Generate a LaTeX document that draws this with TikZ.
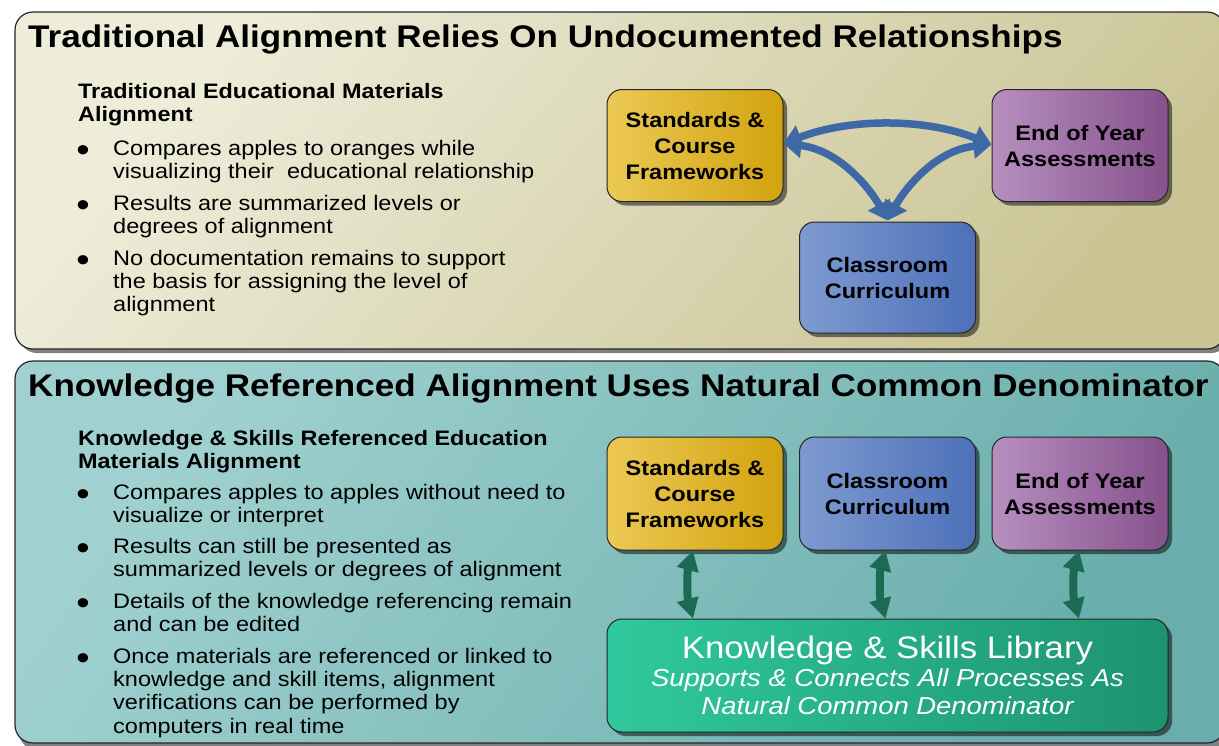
\documentclass[tikz,border=0pt]{standalone}
\usepackage{fontspec}
\setmainfont{Liberation Sans}[FakeStretch=1.12]
\usetikzlibrary{arrows.meta,shadows}
\definecolor{panAL}{HTML}{EDEDDA}
\definecolor{panAR}{HTML}{CBC596}
\definecolor{panBL}{HTML}{A0D1D0}
\definecolor{panBR}{HTML}{69AEAC}
\definecolor{stdL}{HTML}{ECC955}
\definecolor{stdR}{HTML}{D2A30E}
\definecolor{clsL}{HTML}{7E9AD0}
\definecolor{clsR}{HTML}{4D70B9}
\definecolor{eoyL}{HTML}{B68FBF}
\definecolor{eoyR}{HTML}{86518C}
\definecolor{libL}{HTML}{30C99D}
\definecolor{libR}{HTML}{1D936F}
\definecolor{arB}{HTML}{3E68A6}
\definecolor{arG}{HTML}{1C6A54}
\tikzset{
  ttl/.style={anchor=base west, inner sep=0pt, font=\bfseries\fontsize{31.3}{36}\selectfont},
  subh/.style={anchor=base west, inner sep=0pt, font=\bfseries\fontsize{20.9}{23}\selectfont},
  itm/.style={anchor=base west, inner sep=0pt, font=\fontsize{21}{23.3}\selectfont},
  bul/.style={anchor=base, inner sep=0pt, font=\fontsize{34}{34}\selectfont},
  box/.style={draw=black!85, line width=1pt, rounded corners=15pt, minimum width=176pt,
    minimum height=112pt, inner sep=0pt, align=center,
    font=\bfseries\fontsize{21}{26}\selectfont,
    drop shadow={shadow xshift=4pt, shadow yshift=-4pt, fill=black, opacity=0.5}},
  barrow/.style={draw=arB, line width=7.5pt, {Triangle[width=24pt,length=18pt]}-{Triangle[width=24pt,length=18pt]}},
  garrow/.style={draw=arG, line width=8pt, {Triangle[width=21pt,length=20pt]}-{Triangle[width=21pt,length=20pt]}},
  panel/.style={draw=black!85, line width=1.2pt, rounded corners=18pt}
}
\begin{document}
\begin{tikzpicture}[x=1pt,y=-1pt]
\clip (0,0) rectangle (1219,745);
\fill[white] (0,0) rectangle (1219,745);

% panels
\fill[black!50, rounded corners=18pt] (19,16) rectangle (1229,353);
\path[panel, left color=panAL, right color=panAR, shading angle=50] (15,12) rectangle (1225,349);
\fill[black!50, rounded corners=18pt] (19,365) rectangle (1229,750);
\path[panel, left color=panBL, right color=panBR, shading angle=55] (15,361) rectangle (1225,743);

% titles
\node[ttl] (t1) at (28,47.3) {Traditional Alignment Relies On Undocumented Relationships};
\node[ttl] (t2) at (28,396.7) {Knowledge Referenced Alignment Uses Natural Common Denominator};

% top text
\node[subh] (s1) at (78,98) {\parbox[t]{500pt}{Traditional Educational Materials\\Alignment}};
\node[bul] (d1) at (83,161) {•};
\node[itm] (i1) at (113,155) {\parbox[t]{500pt}{Compares apples to oranges while\\visualizing their~ educational relationship}};
\node[bul] (d2) at (83,216) {•};
\node[itm] (i2) at (113,210) {\parbox[t]{500pt}{Results are summarized levels or\\degrees of alignment}};
\node[bul] (d3) at (83,271) {•};
\node[itm] (i3) at (113,265) {\parbox[t]{500pt}{No documentation remains to support\\the basis for assigning the level of\\alignment}};

% bottom text
\node[subh] (s2) at (78,445) {\parbox[t]{520pt}{Knowledge \& Skills Referenced Education\\Materials Alignment}};
\node[bul] (e1) at (83,505) {•};
\node[itm] (j1) at (113,499) {\parbox[t]{520pt}{Compares apples to apples without need to\\visualize or interpret}};
\node[bul] (e2) at (83,559.3) {•};
\node[itm] (j2) at (113,553.3) {\parbox[t]{520pt}{Results can still be presented as\\summarized levels or degrees of alignment}};
\node[bul] (e3) at (83,614.3) {•};
\node[itm] (j3) at (113,608.3) {\parbox[t]{520pt}{Details of the knowledge referencing remain\\and can be edited}};
\node[bul] (e4) at (83,669.3) {•};
\node[itm] (j4) at (113,663.3) {\parbox[t]{520pt}{Once materials are referenced or linked to\\knowledge and skill items, alignment\\verifications can be performed by\\computers in real time}};

% top diagram
\node[box, left color=stdL, right color=stdR] (std1) at (695,145.5) {Standards \&\\Course\\Frameworks};
\node[box, left color=eoyL, right color=eoyR] (eoy1) at (1080,145.5) {End of Year\\Assessments};
\node[box, left color=clsL, right color=clsR, minimum height=111pt] (cls1) at (887.5,277.5) {Classroom\\Curriculum};

\draw[barrow] ([yshift=2pt]std1.east) .. controls (850,118) and (925,118) .. ([yshift=1pt]eoy1.west);
\draw[barrow] ([yshift=2pt]std1.east) .. controls (840,150) and (871,190) .. ([yshift=1pt]cls1.north);
\draw[barrow] ([yshift=1pt]eoy1.west) .. controls (935,150) and (904,190) .. ([yshift=1pt]cls1.north);

% bottom diagram
\node[box, left color=stdL, right color=stdR, minimum height=113pt] (std2) at (695,493.5) {Standards \&\\Course\\Frameworks};
\node[box, left color=clsL, right color=clsR, minimum height=113pt] (cls2) at (887.5,493.5) {Classroom\\Curriculum};
\node[box, left color=eoyL, right color=eoyR, minimum height=113pt] (eoy2) at (1080,493.5) {End of Year\\Assessments};
\node[box, left color=libL, right color=libR, minimum width=561pt, minimum height=113pt, text=white,
      font=\fontsize{31}{31}\selectfont] (lib) at (887.5,675.5)
  {\parbox{560pt}{\centering Knowledge \& Skills Library\par
   \fontsize{24.5}{28}\selectfont\itshape Supports \& Connects All Processes As\\Natural Common Denominator}};

\draw[garrow] ([xshift=-2pt]std2.south) .. controls +(-6,22) and +(-6,-22) .. ([xshift=-2pt]std2.south |- lib.north);
\draw[garrow] ([xshift=-2pt]cls2.south) .. controls +(-6,22) and +(-6,-22) .. ([xshift=-2pt]cls2.south |- lib.north);
\draw[garrow] ([xshift=-1pt]eoy2.south) .. controls +(-6,22) and +(-6,-22) .. ([xshift=-1pt]eoy2.south |- lib.north);
\end{tikzpicture}
\end{document}
